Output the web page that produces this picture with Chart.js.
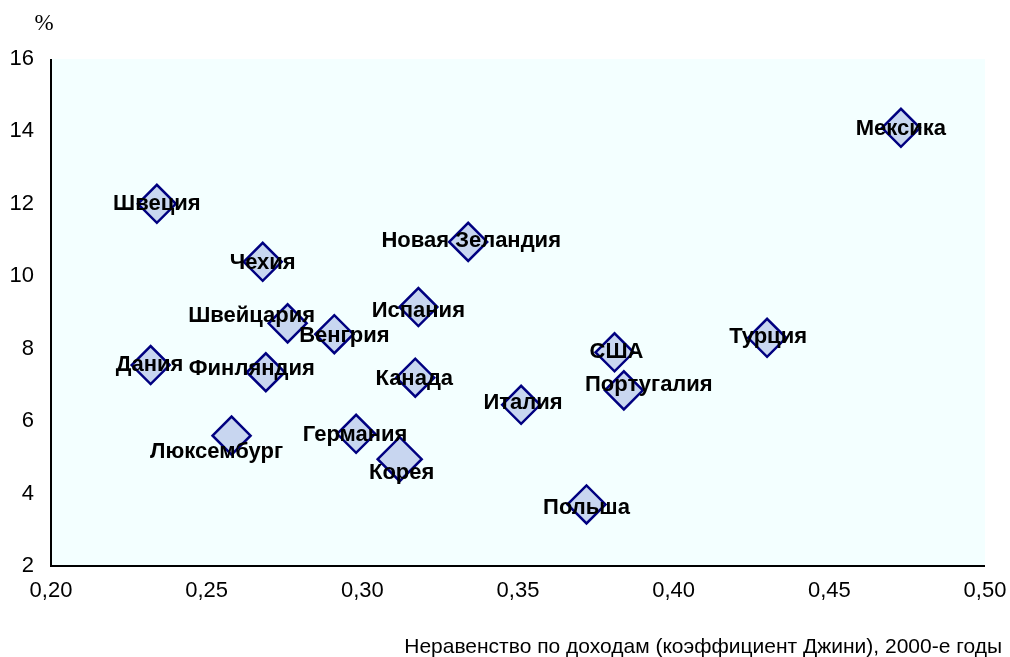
<!DOCTYPE html>
<html>
<head>
<meta charset="utf-8">
<script src="https://cdn.jsdelivr.net/npm/chart.js@4.4.1/dist/chart.umd.min.js"></script>
<style>
  html, body { margin: 0; padding: 0; background: #fff; }
  #wrap { width: 1010px; height: 657px; }
</style>
</head>
<body>
<div id="wrap"><canvas id="chart" width="1010" height="657"></canvas></div>
<script>
// countries and values
const countries = ['Швеция', 'Чехия', 'Швейцария', 'Венгрия', 'Дания', 'Финляндия',
    'Люксембург', 'Германия', 'Корея', 'Испания', 'Канада', 'Новая Зеландия',
    'Италия', 'Польша', 'США', 'Португалия', 'Турция', 'Мексика'];
const gini = [0.234, 0.268, 0.276, 0.291, 0.232, 0.269,
    0.258, 0.298, 0.312, 0.318, 0.317, 0.334,
    0.351, 0.372, 0.381, 0.384, 0.430, 0.473];
const rate = [12.0, 10.4, 8.7, 8.4, 7.55, 7.35,
    5.6, 5.65, 4.95, 9.15, 7.2, 10.95,
    6.45, 3.7, 7.9, 6.85, 8.3, 14.1];

// label nudges (px) from the marker centre
const labelNudge = [[0, 0], [0, 1], [-36, -7], [10, 2], [-1, 0], [-14, -3],
    [-15, 16], [-1, 1], [2, 14], [0, 4], [-1, 1], [3, -1],
    [2, -2], [0, 4], [2, 0], [25, -5], [1, -1], [0, 1]];

const xMin = 0.20, xMax = 0.50, xStep = 0.05;
const yMin = 2, yMax = 16, yStep = 2;

const points = gini.map((g, i) => ({ x: g, y: rate[i] }));

// background of the plot area, axis lines and the extra texts
const decor = {
    id: 'decor',
    beforeDatasetsDraw(chart) {
        const { ctx, chartArea: a } = chart;
        ctx.save();
        ctx.fillStyle = '#f3ffff';
        ctx.fillRect(a.left, a.top, a.right - a.left, a.bottom - a.top);
        ctx.strokeStyle = '#000';
        ctx.lineWidth = 2;
        ctx.beginPath();
        ctx.moveTo(a.left, a.top);
        ctx.lineTo(a.left, a.bottom);
        ctx.lineTo(a.right, a.bottom);
        ctx.stroke();
        ctx.restore();
    },
    afterDatasetsDraw(chart) {
        const { ctx } = chart;
        const meta = chart.getDatasetMeta(0);
        ctx.save();
        ctx.fillStyle = '#000';
        ctx.font = 'bold 22px "Liberation Sans", Arial, sans-serif';
        ctx.textAlign = 'center';
        ctx.textBaseline = 'middle';
        meta.data.forEach((pt, i) => {
            const n = labelNudge[i];
            ctx.fillText(countries[i], pt.x + n[0], pt.y + n[1]);
        });
        ctx.font = '23px "Liberation Serif", "Times New Roman", serif';
        ctx.fillText('%', 44, 24);
        ctx.font = '21px "Liberation Sans", Arial, sans-serif';
        ctx.textAlign = 'right';
        ctx.fillText('Неравенство по доходам (коэффициент Джини), 2000-е годы', 1002, 647);
        ctx.restore();
    }
};

new Chart(document.getElementById('chart'), {
    type: 'scatter',
    data: {
        datasets: [{
            data: points,
            pointStyle: 'rectRot',
            pointRadius: ctx => countries[ctx.dataIndex] === 'Корея' ? 22 : 19,
            pointHoverRadius: 19,
            backgroundColor: '#c8d6f0',
            borderColor: '#000080',
            borderWidth: 2.5
        }]
    },
    options: {
        responsive: false,
        animation: false,
        layout: { padding: { top: 59, right: 25, left: 0, bottom: 0 } },
        plugins: {
            legend: { display: false },
            tooltip: { enabled: false }
        },
        scales: {
            x: {
                type: 'linear',
                min: xMin,
                max: xMax,
                grid: { display: false, drawTicks: false },
                border: { display: false },
                afterFit: s => { s.height = 91; s.paddingLeft = 0; s.paddingRight = 0; },
                ticks: {
                    stepSize: xStep,
                    padding: 12,
                    color: '#000',
                    font: { family: '"Liberation Sans", Arial, sans-serif', size: 22 },
                    callback: v => v.toFixed(2).replace('.', ',')
                }
            },
            y: {
                type: 'linear',
                min: yMin,
                max: yMax,
                grid: { display: false, drawTicks: false },
                border: { display: false },
                afterFit: s => { s.width = 51; s.paddingTop = 0; s.paddingBottom = 0; },
                ticks: {
                    stepSize: yStep,
                    padding: 17,
                    color: '#000',
                    font: { family: '"Liberation Sans", Arial, sans-serif', size: 22 }
                }
            }
        }
    },
    plugins: [decor]
});
</script>
</body>
</html>
